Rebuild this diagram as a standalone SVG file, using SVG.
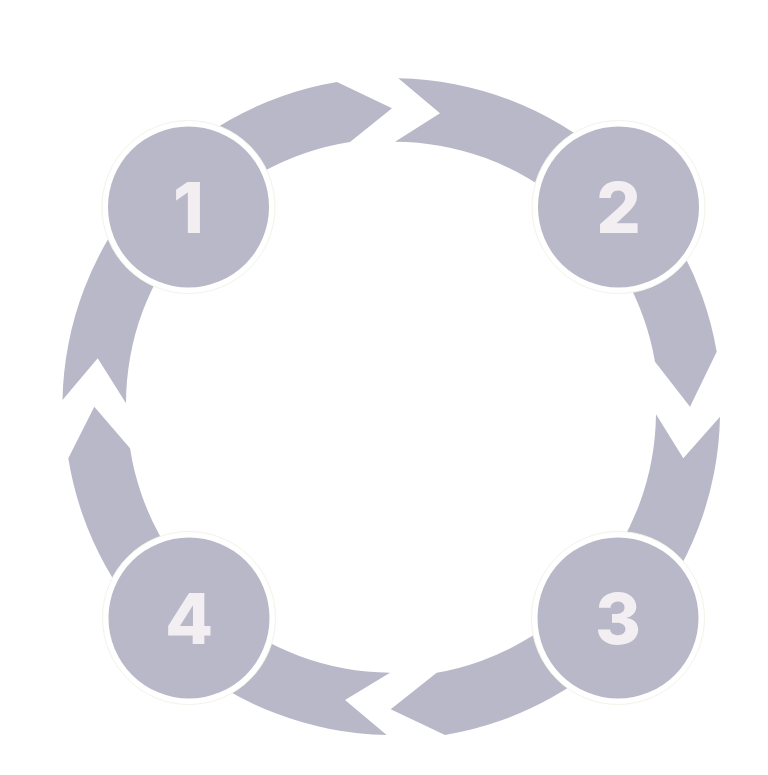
<svg xmlns="http://www.w3.org/2000/svg" width="768" height="775" viewBox="0 0 768 775">
<style>
.arrow{fill:#b8b8c8;stroke:none}
.halo{fill:#ffffff;stroke:#f4f2ea;stroke-width:1}
.disc{fill:#b8b8c8}
.num{font-family:Inter,"Open Sans","Liberation Sans",sans-serif;font-weight:800;font-size:70px;fill:#f2eef2;text-anchor:middle}
</style>
<rect width="768" height="775" fill="#ffffff"/>
<g id="connectors">
<path class="arrow" d="M62.5,400 L97.7,358.3 L126,403.3 A265,265 0 0 1 350,142 L392,108.3 L337,82 A329,329 0 0 0 62.5,400 Z"/>
<path class="arrow" d="M398.3,78.3 L440,113.3 L395,141.7 A265,265 0 0 1 655,361.7 L690,406.7 L716.7,351.7 A329,329 0 0 0 398.3,78.3 Z"/>
<path class="arrow" d="M720,416.7 L683.3,458.3 L656,414.3 A265,265 0 0 1 436.7,672.7 L390.7,709.3 L445,735 A329,329 0 0 0 720,416.7 Z"/>
<path class="arrow" d="M386.7,735 L345,700 L390,672.7 A265,265 0 0 1 130,448.3 L94.3,406.7 L68.3,458.3 A329,329 0 0 0 386.7,735 Z"/>
</g>
<g id="node1">
<circle class="halo" cx="188.5" cy="207" r="86.5"/>
<circle class="disc" cx="188.5" cy="207" r="80.5"/>
<text class="num" x="188.5" y="233">1</text>
</g>
<g id="node2">
<circle class="halo" cx="618.5" cy="207" r="86.5"/>
<circle class="disc" cx="618.5" cy="207" r="80.5"/>
<text class="num" x="618.5" y="233">2</text>
</g>
<g id="node3">
<circle class="halo" cx="618" cy="618" r="86.5"/>
<circle class="disc" cx="618" cy="618" r="80.5"/>
<text class="num" x="618" y="643.5">3</text>
</g>
<g id="node4">
<circle class="halo" cx="189" cy="618" r="86.5"/>
<circle class="disc" cx="189" cy="618" r="80.5"/>
<text class="num" x="189" y="643.5">4</text>
</g>
</svg>
